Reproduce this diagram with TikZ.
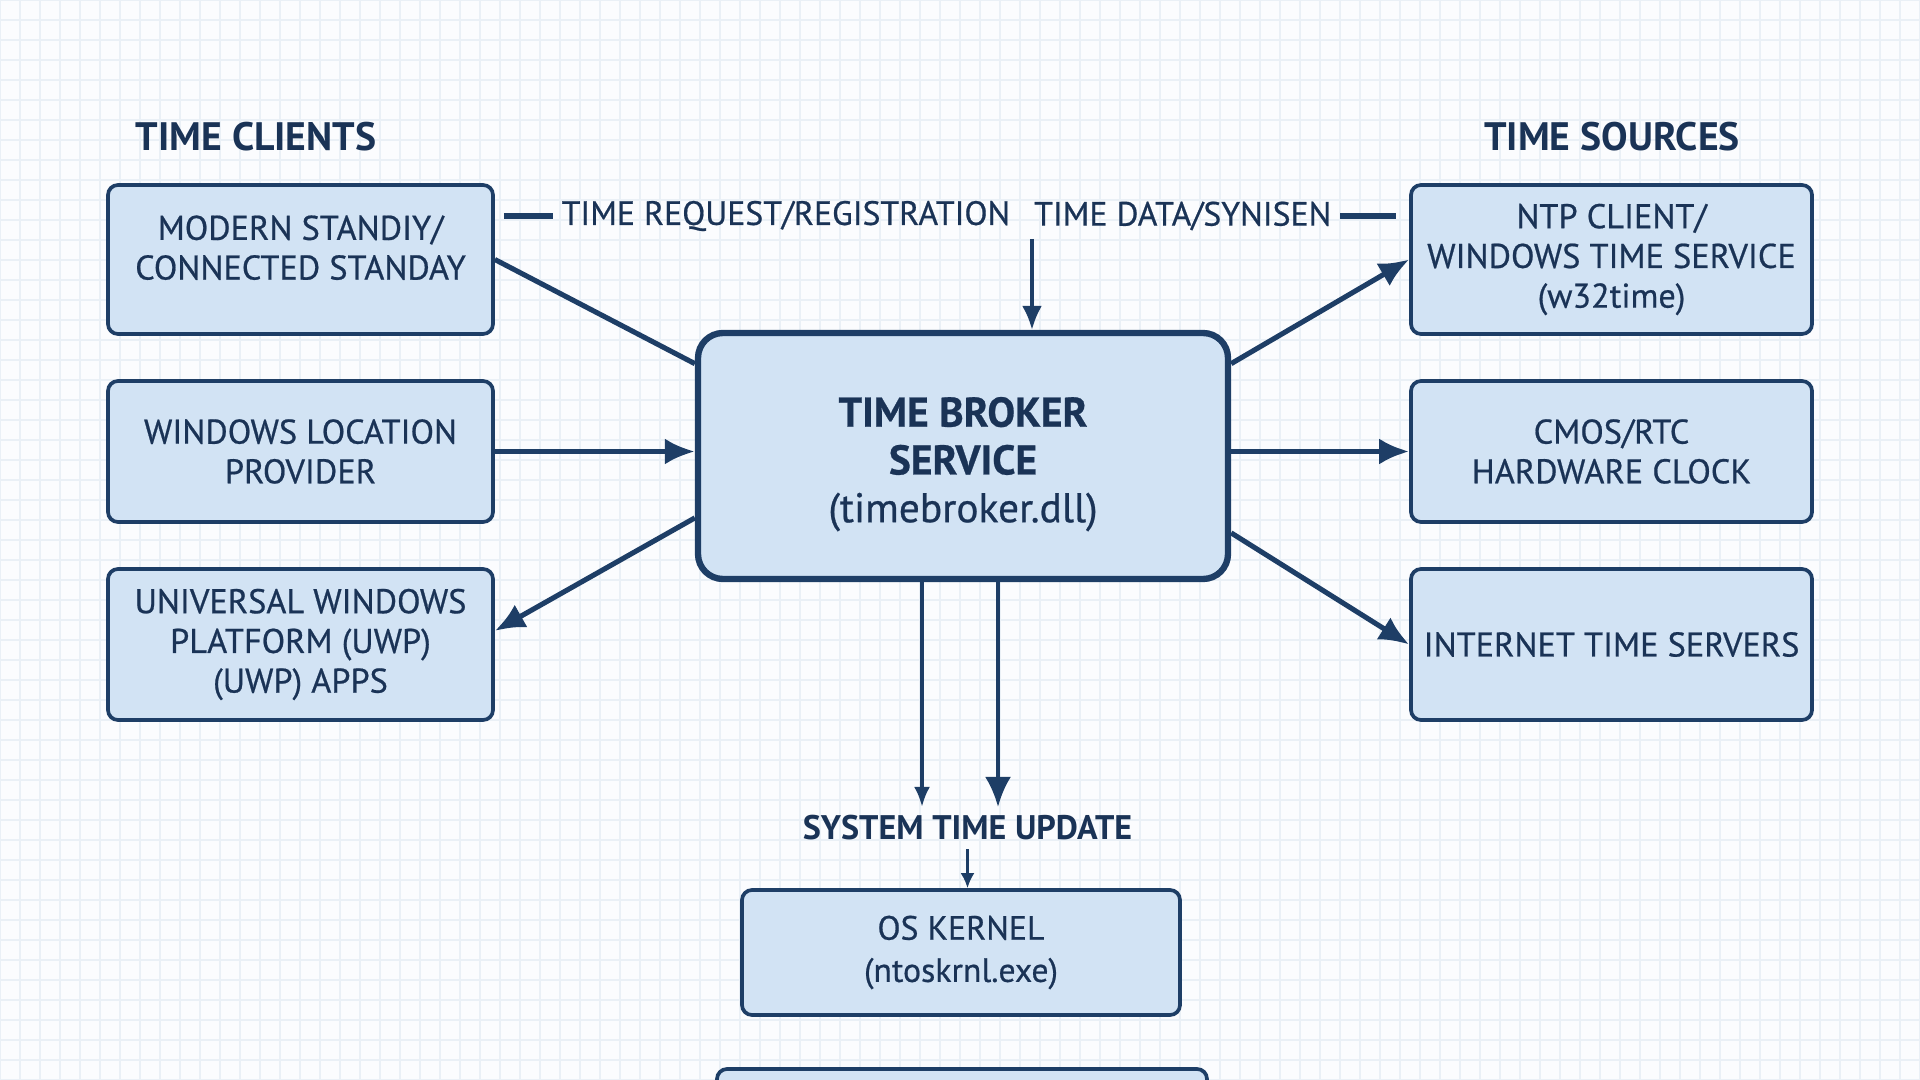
\documentclass[tikz,border=0pt]{standalone}
\usepackage{fontspec}
\setmainfont{PT Sans}
\newfontfamily\medfont{PT Sans}[FakeBold=0.6]
\usetikzlibrary{arrows.meta}
\usetikzlibrary{positioning}

\definecolor{boxfill}{HTML}{D2E3F4}
\definecolor{boxline}{HTML}{1E3E66}
\definecolor{ink}{HTML}{1A3356}
\definecolor{gridcol}{HTML}{EAF0F6}
\definecolor{paper}{HTML}{FBFCFE}

\tikzset{
    box/.style={draw=boxline, fill=boxfill, line width=1.05pt, rounded corners=0.1cm,
        align=center, text=ink, inner sep=0pt, font=\medfont\fontsize{9.75}{11.3}\selectfont},
    client/.style={box, minimum width=3.85cm},
    source/.style={box, minimum width=4.01cm},
    title/.style={text=ink, font=\bfseries\fontsize{11.3}{13}\selectfont},
    flowlabel/.style={text=ink, inner sep=0.08cm, font=\medfont\fontsize{9.6}{11}\selectfont},
    link/.style={draw=boxline, line width=1.45pt},
    arrow/.style={link, -{Latex[length=0.3cm, width=0.26cm]}},
    thinarrow/.style={draw=boxline, line width=1pt, -{Latex[length=0.24cm, width=0.2cm]}},
}

\begin{document}
\begin{tikzpicture}
        \useasboundingbox (0, 0) rectangle (19.2, -10.8);
        \clip (0, 0) rectangle (19.2, -10.8);
        \fill[paper] (0, 0) rectangle (19.2, -10.8);
        \draw[gridcol, line width=0.45pt, step=0.2] (0, -10.8) grid (19.2, 0);

        \node[title] (clients) at (2.56, -1.37) {TIME CLIENTS};
        \node[title] (sources) at (16.12, -1.37) {TIME SOURCES};

        \node[client, minimum height=1.49cm] (modern) at (3.005, -2.595)
            {MODERN STANDIY/\\CONNECTED STANDAY\rule[-0.24cm]{0pt}{0.24cm}};
        \node[client, minimum height=1.41cm] (location) at (3.005, -4.515) {WINDOWS LOCATION\\PROVIDER};
        \node[client, minimum height=1.51cm] (uwp) at (3.005, -6.445) {UNIVERSAL WINDOWS\\PLATFORM (UWP)\\(UWP) APPS};

        \node[source, minimum height=1.49cm] (ntp) at (16.115, -2.595) {NTP CLIENT/\\WINDOWS TIME SERVICE\\(w32time)};
        \node[source, minimum height=1.41cm] (cmos) at (16.115, -4.515) {CMOS/RTC\\HARDWARE CLOCK};
        \node[source, minimum height=1.51cm] (inet) at (16.115, -6.445) {INTERNET TIME SERVERS};

        \node[box, line width=1.8pt, rounded corners=0.25cm, minimum width=5.3cm, minimum height=2.46cm,
            font=\medfont\fontsize{11.8}{13.6}\selectfont] (broker) at (9.63, -4.56)
            {\rule{0pt}{0.46cm}\textbf{TIME BROKER}\\\textbf{SERVICE}\\(timebroker.dll)};

        \node[box, minimum width=4.38cm, minimum height=1.25cm, font=\medfont\fontsize{9.6}{12}\selectfont]
            (kernel) at (9.61, -9.525) {OS KERNEL\\(ntoskrnl.exe)};
        \node[box, minimum width=4.9cm, minimum height=1.25cm] (next) at (9.62, -11.315) {};

        \node[flowlabel, anchor=west] (req) at (5.53, -2.16) {TIME REQUEST/REGISTRATION};
        \node[flowlabel, anchor=east] (data) at (13.40, -2.16) {TIME DATA/SYNISEN};
        \node[flowlabel, font=\bfseries\fontsize{9.7}{11}\selectfont] (upd) at (9.675, -8.28) {SYSTEM TIME UPDATE};

        \coordinate (dtop) at (10.32, -2.39);
        \coordinate (tickl) at (9.22, 0);
        \coordinate (tickr) at (9.98, 0);

        \draw[link, shorten <=0.09cm] (req.west -| modern.east) -- (req.west);
        \draw[link, shorten >=0.13cm] (data.east) -- (data.east -| ntp.west);
        \draw[thinarrow] (dtop) -- (dtop |- broker.north);

        \draw[link] (modern.east) -- (broker.161);
        \draw[arrow] (location.east) -- (location.east -| broker.west);
        \draw[arrow] (broker.193.6) -- (uwp.4);

        \draw[arrow] (broker.19.7) -- (ntp.west);
        \draw[arrow] (broker.east |- cmos.west) -- (cmos.west);
        \draw[arrow] (broker.-16.2) -- (inet.west);

        \draw[thinarrow, -{Latex[length=0.2cm, width=0.16cm]}] (broker.south -| tickl) -- (upd.north -| tickl);
        \draw[arrow, line width=1.1pt] (broker.south -| tickr) -- (upd.north -| tickr);
        \draw[thinarrow, line width=0.8pt, -{Latex[length=0.15cm, width=0.14cm]}] (upd.south) -- (upd.south |- kernel.north);
    \end{tikzpicture}
\end{document}
